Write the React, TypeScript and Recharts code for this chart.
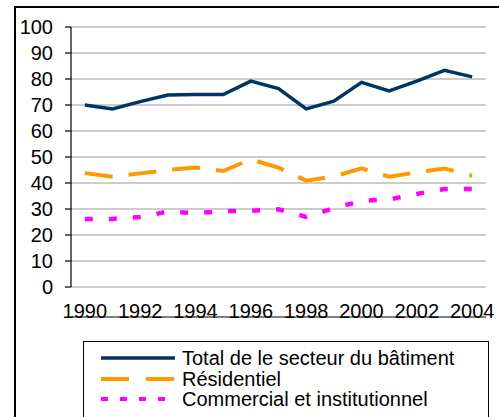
import { LineChart, Line, XAxis, YAxis, CartesianGrid, Legend } from "recharts";

const years = [1990, 1991, 1992, 1993, 1994, 1995, 1996, 1997, 1998, 1999, 2000, 2001, 2002, 2003, 2004];
const total = [70, 68.5, 71.3, 73.8, 74, 74, 79.2, 76.3, 68.5, 71.5, 78.7, 75.4, 79.2, 83.3, 80.8];
const residentiel = [43.8, 42.4, 43.7, 45, 46, 44.6, 49.1, 45.9, 40.9, 42.5, 45.6, 42.4, 44.1, 45.6, 42.8];
const commercial = [26.2, 26.2, 26.9, 29, 28.4, 29.2, 29.3, 29.9, 27, 30.3, 33.1, 33.7, 35.8, 37.7, 37.7];

const yTicks = [0, 10, 20, 30, 40, 50, 60, 70, 80, 90, 100];
const labelYears = [1990, 1992, 1994, 1996, 1998, 2000, 2002, 2004];
const boundaries = [1989.5, 1990.5, 1991.5, 1992.5, 1993.5, 1994.5, 1995.5, 1996.5, 1997.5, 1998.5, 1999.5, 2000.5, 2001.5, 2002.5, 2003.5, 2004.5];

const data = years.map((year, i) => ({
  year,
  total: total[i],
  residentiel: residentiel[i],
  commercial: commercial[i],
}));

const font = "Liberation Sans, Arial, sans-serif";

const legendRows = [
  { name: "Total de le secteur du bâtiment", color: "#003366", dash: undefined, width: 3.5 },
  { name: "Résidentiel", color: "#FF9900", dash: "28 17", width: 4 },
  { name: "Commercial et institutionnel", color: "#FF00FF", dash: "7 12", width: 4 },
];

function LegendBox() {
  return (
    <div style={{ paddingTop: 6, paddingLeft: 16 }}>
      {legendRows.map((r) => (
        <div key={r.name} style={{ display: "flex", alignItems: "center", height: 20.5 }}>
          <svg width={82} height={20} style={{ flex: "none" }}>
            <line x1={1} y1={10} x2={75} y2={10} stroke={r.color} strokeWidth={r.width} strokeDasharray={r.dash} />
          </svg>
          <span style={{ fontSize: 20, color: "#000", lineHeight: "20px", whiteSpace: "nowrap" }}>{r.name}</span>
        </div>
      ))}
    </div>
  );
}

export default function App() {
  return (
    <div style={{ position: "absolute", left: 0, top: 0, width: 499, height: 417, overflow: "hidden", background: "#fff", fontFamily: font }}>
      {/* outer chart-area frame, runs off the right and bottom edges */}
      <div style={{ position: "absolute", left: 14, top: 6, width: 520, height: 450, borderLeft: "2px solid #000", borderTop: "2px solid #000" }} />
      <LineChart width={499} height={417} data={data} margin={{ top: 27, right: 13, left: 0, bottom: 94 }} style={{ fontFamily: font }}>
        <CartesianGrid horizontal vertical={false} stroke="#999" strokeWidth={1.2} />
        {/* tick marks sit between the years, labels on every other year */}
        <XAxis
          xAxisId="marks"
          dataKey="year"
          type="number"
          domain={[1989.5, 2004.5]}
          ticks={boundaries}
          interval={0}
          tick={false}
          tickSize={6}
          height={6}
          stroke="#000"
          strokeWidth={1.2}
        />
        <XAxis
          xAxisId="labels"
          dataKey="year"
          type="number"
          domain={[1989.5, 2004.5]}
          ticks={labelYears}
          interval={0}
          axisLine={false}
          tickLine={false}
          tickSize={0}
          tickMargin={17}
          height={30}
          tick={{ fill: "#000", fontSize: 20, style: { fontFamily: font } }}
        />
        <YAxis
          domain={[0, 100]}
          ticks={yTicks}
          interval={0}
          width={71}
          tickSize={6}
          tickMargin={12}
          stroke="#000"
          strokeWidth={1.2}
          tick={{ fill: "#000", fontSize: 20, style: { fontFamily: font } }}
        />
        <Line xAxisId="marks" dataKey="total" stroke="#003366" strokeWidth={3.5} dot={false} isAnimationActive={false} />
        <Line xAxisId="marks" dataKey="residentiel" stroke="#FF9900" strokeWidth={4} strokeDasharray="28 16" dot={false} isAnimationActive={false} />
        <Line xAxisId="marks" dataKey="commercial" stroke="#FF00FF" strokeWidth={4.5} strokeDasharray="8 16" dot={false} isAnimationActive={false} />
        <Legend
          layout="vertical"
          align="center"
          verticalAlign="middle"
          content={() => <LegendBox />}
          wrapperStyle={{ position: "absolute", left: 83, top: 341, width: 404, height: 100, border: "1px solid #000", background: "#fff" }}
        />
      </LineChart>
    </div>
  );
}
